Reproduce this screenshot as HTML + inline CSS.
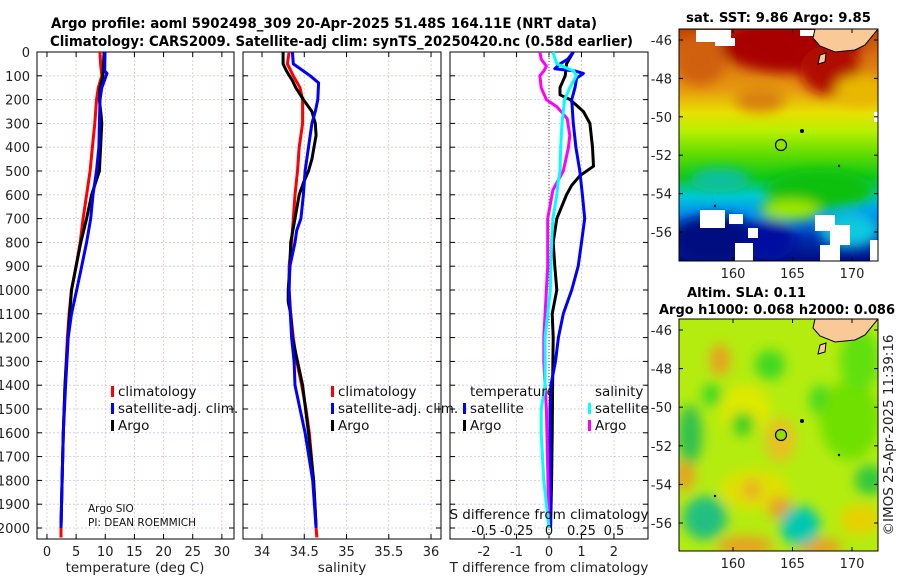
<!DOCTYPE html>
<html><head><meta charset="utf-8">
<style>
html,body{margin:0;padding:0;background:#fff;}
svg{display:block;font-family:"DejaVu Sans","Liberation Sans",sans-serif;}
</style></head>
<body>
<svg id="fig" width="900" height="580" viewBox="0 0 900 580" xmlns="http://www.w3.org/2000/svg">
<defs>
<filter id="blur6" x="-20%" y="-20%" width="140%" height="140%"><feGaussianBlur stdDeviation="6"/></filter>
<filter id="blur3"><feGaussianBlur stdDeviation="3"/></filter>
<clipPath id="clipTop"><rect x="679" y="29" width="199" height="232"/></clipPath>
<clipPath id="clipBot"><rect x="679" y="319" width="199" height="232"/></clipPath>
<linearGradient id="sstGrad" x1="0" y1="0" x2="0" y2="1">
<stop offset="0" stop-color="#c04000"/>
<stop offset="0.12" stop-color="#d87010"/>
<stop offset="0.26" stop-color="#e89a10"/>
<stop offset="0.36" stop-color="#e8e000"/>
<stop offset="0.44" stop-color="#b8f000"/>
<stop offset="0.54" stop-color="#60dc00"/>
<stop offset="0.64" stop-color="#10c818"/>
<stop offset="0.72" stop-color="#00c8d8"/>
<stop offset="0.80" stop-color="#0090f0"/>
<stop offset="0.90" stop-color="#0030b0"/>
<stop offset="1" stop-color="#000c80"/>
</linearGradient>
</defs>
<g font-weight="bold" font-size="14">
<text x="51" y="28" textLength="546" lengthAdjust="spacingAndGlyphs">Argo profile: aoml 5902498_309 20-Apr-2025 51.48S 164.11E (NRT data)</text>
<text x="50" y="46" textLength="583" lengthAdjust="spacingAndGlyphs">Climatology: CARS2009. Satellite-adj clim: synTS_20250420.nc (0.58d earlier)</text>
</g>
<g id="panels"></g>

<!-- Top map: SST -->
<g>
<text x="686" y="22" textLength="185" lengthAdjust="spacingAndGlyphs" font-weight="bold" font-size="13.5">sat. SST: 9.86 Argo: 9.85</text>
<g clip-path="url(#clipTop)">
<rect x="679" y="29" width="199" height="232" fill="url(#sstGrad)"/>
<g filter="url(#blur6)">
<ellipse cx="790" cy="45" rx="70" ry="28" fill="#a80000"/>
<ellipse cx="830" cy="70" rx="30" ry="25" fill="#b01000"/>
<ellipse cx="700" cy="60" rx="25" ry="25" fill="#d06010"/>
<ellipse cx="760" cy="100" rx="25" ry="12" fill="#d88010"/>
<ellipse cx="860" cy="90" rx="25" ry="15" fill="#e8b800"/>
<ellipse cx="820" cy="190" rx="55" ry="20" fill="#08c010"/>
<ellipse cx="790" cy="210" rx="30" ry="10" fill="#a0e800"/>
<ellipse cx="715" cy="240" rx="45" ry="25" fill="#000a80"/>
<ellipse cx="770" cy="240" rx="25" ry="20" fill="#0010a0"/>
<ellipse cx="850" cy="230" rx="30" ry="18" fill="#10c8e0"/>
<ellipse cx="720" cy="180" rx="30" ry="12" fill="#10c0a0"/>
</g>
<rect x="696" y="30" width="35" height="12" fill="#fff"/>
<rect x="715" y="38" width="20" height="8" fill="#fff"/>
<rect x="800" y="30" width="30" height="6" fill="#fff"/>
<rect x="862" y="30" width="8" height="8" fill="#fff"/>
<rect x="700" y="210" width="25" height="18" fill="#fff"/>
<rect x="729" y="214" width="14" height="10" fill="#fff"/>
<rect x="735" y="243" width="18" height="18" fill="#fff"/>
<rect x="748" y="228" width="10" height="10" fill="#fff"/>
<rect x="815" y="215" width="20" height="16" fill="#fff"/>
<rect x="830" y="225" width="20" height="20" fill="#fff"/>
<rect x="820" y="245" width="20" height="16" fill="#fff"/>
<rect x="870" y="240" width="8" height="21" fill="#fff"/>
<rect x="874" y="112" width="4" height="10" fill="#fff"/>
<path d="M815,29 L878,29 L865,45 L855,50 L835,52 L820,46 L813,38 Z" fill="#f9c998" stroke="#000" stroke-width="1"/>
<path d="M820,55 L826,53 L825,62 L818,64 Z" fill="#f9c998" stroke="#000" stroke-width="1"/>
<circle cx="802" cy="131" r="2" fill="#000"/>
<circle cx="839" cy="166" r="1.2" fill="#000"/>
<circle cx="715" cy="206" r="1.2" fill="#000"/>
<circle cx="781" cy="145" r="5.5" fill="#90e000" stroke="#000" stroke-width="1.2"/>
</g>
<rect x="679" y="29" width="199" height="232" fill="none" stroke="#000" stroke-width="1"/>
</g>

<!-- Bottom map: SLA -->
<g>
<text x="687" y="297" textLength="119" lengthAdjust="spacingAndGlyphs" font-weight="bold" font-size="13.5">Altim. SLA: 0.11</text>
<text x="659" y="314" textLength="236" lengthAdjust="spacingAndGlyphs" font-weight="bold" font-size="13.5">Argo h1000: 0.068 h2000: 0.086</text>
<g clip-path="url(#clipBot)">
<rect x="679" y="319" width="199" height="232" fill="#b4ec10"/>
<g filter="url(#blur6)">
<ellipse cx="720" cy="360" rx="10" ry="16" fill="#e8a020"/>
<ellipse cx="745" cy="410" rx="25" ry="25" fill="#e0e800"/>
<ellipse cx="755" cy="490" rx="35" ry="20" fill="#e0e000"/>
<ellipse cx="752" cy="490" rx="10" ry="10" fill="#e8b020"/>
<ellipse cx="685" cy="475" rx="10" ry="16" fill="#e8a020"/>
<ellipse cx="780" cy="508" rx="12" ry="12" fill="#e8a020"/>
<ellipse cx="745" cy="546" rx="28" ry="10" fill="#e8a020"/>
<ellipse cx="820" cy="548" rx="22" ry="10" fill="#e8a020"/>
<ellipse cx="860" cy="520" rx="20" ry="15" fill="#e8d000"/>
<ellipse cx="690" cy="435" rx="12" ry="30" fill="#30c050"/>
<ellipse cx="705" cy="518" rx="22" ry="22" fill="#20c080"/>
<ellipse cx="800" cy="526" rx="20" ry="20" fill="#00c8b0"/>
<ellipse cx="743" cy="424" rx="12" ry="12" fill="#30d020"/>
<ellipse cx="770" cy="365" rx="15" ry="15" fill="#40d820"/>
<ellipse cx="712" cy="395" rx="10" ry="12" fill="#40d820"/>
<ellipse cx="820" cy="400" rx="10" ry="15" fill="#40d820"/>
<ellipse cx="850" cy="420" rx="30" ry="40" fill="#70e000"/>
<ellipse cx="860" cy="360" rx="20" ry="30" fill="#60e010"/>
<ellipse cx="870" cy="480" rx="15" ry="15" fill="#30c840"/>
<ellipse cx="780" cy="440" rx="15" ry="22" fill="#e8c020"/>
</g>
<path d="M815,319 L878,319 L865,335 L855,340 L835,342 L820,336 L813,328 Z" fill="#f9c998" stroke="#000" stroke-width="1"/>
<path d="M820,345 L826,343 L825,352 L818,354 Z" fill="#f9c998" stroke="#000" stroke-width="1"/>
<circle cx="802" cy="421" r="2" fill="#000"/>
<circle cx="839" cy="455" r="1.2" fill="#000"/>
<circle cx="715" cy="496" r="1.2" fill="#000"/>
<circle cx="781" cy="435" r="5.5" fill="#90e000" stroke="#000" stroke-width="1.2"/>
</g>
<rect x="679" y="319" width="199" height="232" fill="none" stroke="#000" stroke-width="1"/>
</g>
<text transform="translate(893,435) rotate(-90)" text-anchor="middle" font-size="13.5" fill="#222">©IMOS 25-Apr-2025 11:39:16</text>
<g id="mapaxes"></g>
</svg>
<script>
// ---- data ----
const depthTicks = [0,100,200,300,400,500,600,700,800,900,1000,1100,1200,1300,1400,1500,1600,1700,1800,1900,2000];
const tempTicks = [0,5,10,15,20,25,30];
const salTicks = [34,34.5,35,35.5,36];
const salTickLabels = ["34","34.5","35","35.5","36"];
const diffTTicks = [-2,-1,0,1,2];
const diffSTicks = [-0.5,-0.25,0,0.25,0.5];
const diffSTickLabels = ["-0.5","-0.25","0","0.25","0.5"];

const tClimDepth = [0,50,100,150,200,300,400,500,600,700,800,900,1000,1100,1200,1400,1600,1800,2000,2040];
const tClim      = [9.1,9.2,9.4,8.8,8.5,8.2,7.8,7.4,6.8,6.2,5.7,5.0,4.2,3.8,3.5,3.1,2.8,2.6,2.4,2.4];
const tSatDepth = [0,80,90,150,200,300,400,500,600,700,800,900,1000,1100,1200,1400,1600,1800,2000];
const tSat      = [9.95,9.9,10.3,9.4,9.1,9.0,8.9,8.5,7.9,7.5,6.8,5.95,5.1,4.2,3.65,3.2,2.8,2.6,2.4];
const tArgoDepth = [0,100,150,200,270,300,400,500,600,700,800,900,1000,1100,1200,1400,1600,1800,1990];
const tArgo      = [9.8,9.6,9.1,9.0,9.3,9.4,9.2,9.0,7.65,6.8,5.8,5.0,4.2,3.9,3.6,3.1,2.8,2.6,2.4];

const sClimDepth = [0,50,100,150,200,300,400,500,600,700,800,900,1000,1100,1200,1300,1400,1500,1600,1800,2000,2040];
const sClim      = [34.32,34.30,34.37,34.45,34.48,34.48,34.44,34.42,34.39,34.37,34.35,34.32,34.32,34.34,34.37,34.41,34.47,34.52,34.56,34.61,34.64,34.65];
const sSatDepth = [0,50,80,100,130,200,250,300,400,500,600,700,750,800,900,1000,1200,1300,1400,1500,1600,1800,2000];
const sSat      = [34.36,34.37,34.49,34.57,34.67,34.66,34.63,34.59,34.55,34.51,34.49,34.46,34.41,34.39,34.33,34.32,34.35,34.38,34.39,34.45,34.51,34.60,34.64];
const sArgoDepth = [0,50,80,120,150,200,250,300,350,450,500,550,600,700,800,900,1000,1050,1100,1200,1400,1600,1800,1990];
const sArgo      = [34.25,34.25,34.29,34.36,34.40,34.49,34.59,34.63,34.64,34.59,34.55,34.49,34.44,34.39,34.34,34.33,34.31,34.31,34.34,34.36,34.48,34.55,34.61,34.64];

const dTSatDepth = [0,30,50,70,80,90,110,150,200,300,400,500,600,700,800,900,1000,1100,1200,1300,1400,1500,2000];
const dTSat      = [0.75,0.58,0.34,0.18,0.8,1.06,0.85,0.8,0.7,0.75,0.83,0.95,1.03,1.1,1.0,0.9,0.7,0.44,0.29,0.2,0.06,0.03,0.05];
const dTArgoDepth = [0,50,100,150,180,200,250,300,400,480,520,560,600,700,800,900,1000,1100,1200,1400,1600,1800,1990];
const dTArgo      = [0.75,0.54,0.5,0.34,0.34,0.65,1.06,1.26,1.34,1.37,0.95,0.7,0.54,0.24,0.13,0.18,0.24,0.1,0.13,0.11,0.1,0.08,0.05];
const dSSatDepth = [0,50,80,100,150,200,300,400,500,550,600,700,800,1000,1100,1200,1400,1500,1600,1800,1950,2000];
const dSSat      = [0.03,0.06,0.19,0.21,0.16,0.12,0.10,0.09,0.085,0.07,0.06,0.03,0.02,0.01,-0.01,-0.03,-0.03,-0.06,-0.06,-0.04,-0.01,0];
const dSArgoDepth = [0,30,60,80,100,150,200,230,280,350,400,500,580,700,800,900,1000,1100,1200,1300,1400,1500,2000];
const dSArgo      = [-0.07,-0.06,-0.02,-0.04,-0.07,-0.06,-0.02,0.06,0.14,0.16,0.15,0.11,0.03,-0.01,-0.01,-0.01,-0.02,-0.03,-0.04,-0.04,-0.03,-0.02,0];

const mapLatTicks = [-46,-48,-50,-52,-54,-56];
const mapLonTicks = [160,165,170];

// ---- layout ----
const NS = "http://www.w3.org/2000/svg";
const root = document.getElementById('panels');
const Y0 = 52, PXM = 0.238, YBOT = 539;
function yScale(d){ return Y0 + d*PXM; }
function el(tag, attrs, parent){ const e=document.createElementNS(NS,tag); for(const k in attrs) e.setAttribute(k,attrs[k]); (parent||root).appendChild(e); return e; }

function makePanel(name, x0, x1, vmin, vmax){
  const g = el('g',{});
  
  
  const xs = v => x0 + (v - vmin)/(vmax - vmin)*(x1 - x0);
  return {g, xs, x0, x1};
}
function drawFrame(p, xticks, labels, name){
  const grid = el('g',{},p.g);
  
  
  depthTicks.forEach(d=>{ el('line',{x1:p.x0,x2:p.x1,y1:yScale(d),y2:yScale(d),stroke:'#c4c8e8','stroke-width':0.8,'stroke-dasharray':'2,2'},grid);
    el('line',{x1:p.x0,x2:p.x0+5,y1:yScale(d),y2:yScale(d),stroke:'#000'},grid);
    el('line',{x1:p.x1-5,x2:p.x1,y1:yScale(d),y2:yScale(d),stroke:'#000'},grid);});
  xticks.forEach((v,i)=>{ const x=p.xs(v);
    el('line',{x1:x,x2:x,y1:Y0,y2:YBOT,stroke:'#e0c8c0','stroke-width':0.8,'stroke-dasharray':'2,2'},grid);
    el('line',{x1:x,x2:x,y1:Y0,y2:Y0+5,stroke:'#000'},grid);
    el('line',{x1:x,x2:x,y1:YBOT-5,y2:YBOT,stroke:'#000'},grid);
    const t=el('text',{x:x,y:556,'text-anchor':'middle','font-size':13,fill:'#222'},p.g);
    t.textContent = labels ? labels[i] : String(v);
    
    
  });
  const fr=el('rect',{x:p.x0,y:Y0,width:p.x1-p.x0,height:YBOT-Y0,fill:'none',stroke:'#000','stroke-width':1},p.g);
  
  
}
function drawLine(p, depths, vals, color, name, scale){
  const pts = depths.map((d,i)=> p.xs(vals[i]*(scale||1)).toFixed(1)+','+yScale(d).toFixed(1)).join(' ');
  const l = el('polyline',{points:pts,fill:'none',stroke:color,'stroke-width':3,'stroke-linejoin':'round'},p.g);
  
  
}
function legendEntry(p, x, y, color, label, name){
  const g = el('g',{},p.g);
  
  
  if(color) el('rect',{x:x-7,y:y-10,width:3,height:11,fill:color},g);
  const t = el('text',{x:x,y:y,'font-size':13.5,fill:'#111'},g);
  t.textContent = label;
}

// y-axis labels
const yl = el('g',{});


depthTicks.forEach(d=>{ const t=el('text',{x:30,y:yScale(d)+5,'text-anchor':'end','font-size':13,fill:'#222'},yl); t.textContent=d; });

// Panel 1 temperature
const p1 = makePanel('temperature-panel', 37, 234, -1.71, 32.08);
drawFrame(p1, tempTicks, null, 'temperature');
drawLine(p1, tClimDepth, tClim, '#f00', 'temperature-climatology-line');
drawLine(p1, tArgoDepth, tArgo, '#000', 'temperature-argo-line');
drawLine(p1, tSatDepth, tSat, '#00f', 'temperature-satellite-line');
legendEntry(p1, 118, 396, '#f00', 'climatology', 'legend-climatology');
legendEntry(p1, 118, 413, '#00f', 'satellite-adj. clim.', 'legend-satellite');
legendEntry(p1, 118, 430, '#000', 'Argo', 'legend-argo');
let t = el('text',{x:88,y:512,'font-size':10.5,fill:'#111'},p1.g); t.textContent='Argo SIO';
 
t = el('text',{x:88,y:526,'font-size':10.5,fill:'#111'},p1.g); t.textContent='PI: DEAN ROEMMICH';
 
t = el('text',{x:135,y:572,'text-anchor':'middle','font-size':13.5,fill:'#222'},p1.g); t.textContent='temperature (deg C)';
 

// Panel 2 salinity
const p2 = makePanel('salinity-panel', 243, 441, 33.775, 36.118);
drawFrame(p2, salTicks, salTickLabels, 'salinity');
drawLine(p2, sClimDepth, sClim, '#f00', 'salinity-climatology-line');
drawLine(p2, sArgoDepth, sArgo, '#000', 'salinity-argo-line');
drawLine(p2, sSatDepth, sSat, '#00f', 'salinity-satellite-line');
legendEntry(p2, 338, 396, '#f00', 'climatology', 'legend-climatology');
legendEntry(p2, 338, 413, '#00f', 'satellite-adj. clim.', 'legend-satellite');
legendEntry(p2, 338, 430, '#000', 'Argo', 'legend-argo');
t = el('text',{x:342,y:572,'text-anchor':'middle','font-size':13.5,fill:'#222'},p2.g); t.textContent='salinity';
 

// Panel 3 differences
const p3 = makePanel('difference-panel', 450, 648, -3.05, 3.05);
drawFrame(p3, diffTTicks, null, 'difference');
el('line',{x1:p3.xs(0),x2:p3.xs(0),y1:Y0,y2:YBOT,stroke:'#444','stroke-width':1,'stroke-dasharray':'1,2'},p3.g);
const SF = 4; // S difference axis scale: 0.5 psu aligns with 2 deg C
drawLine(p3, dTArgoDepth, dTArgo, '#000', 'tdiff-argo-line');
drawLine(p3, dTSatDepth, dTSat, '#00f', 'tdiff-satellite-line');
drawLine(p3, dSArgoDepth, dSArgo, '#f0f', 'sdiff-argo-line', SF);
drawLine(p3, dSSatDepth, dSSat, '#0ff', 'sdiff-satellite-line', SF);
legendEntry(p3, 470, 396, null, 'temperature', 'legend-temperature-header');
legendEntry(p3, 470, 413, '#00f', 'satellite', 'legend-temperature-satellite');
legendEntry(p3, 470, 430, '#000', 'Argo', 'legend-temperature-argo');
legendEntry(p3, 595, 396, null, 'salinity', 'legend-salinity-header');
legendEntry(p3, 595, 413, '#0ff', 'satellite', 'legend-salinity-satellite');
legendEntry(p3, 595, 430, '#f0f', 'Argo', 'legend-salinity-argo');
t = el('text',{x:549,y:519,'text-anchor':'middle','font-size':13.5,fill:'#111'},p3.g); t.textContent='S difference from climatology';
 
diffSTicks.forEach((v,i)=>{ const tt=el('text',{x:p3.xs(v*SF),y:535,'text-anchor':'middle','font-size':13,fill:'#111'},p3.g); tt.textContent=diffSTickLabels[i];
    });
t = el('text',{x:549,y:572,'text-anchor':'middle','font-size':13.5,fill:'#222'},p3.g); t.textContent='T difference from climatology';
 

// Map axes
const ma = document.getElementById('mapaxes');
function mapAxes(top, bottom, latTop, pxLat, name){
  const g = el('g',{},ma);
  
  
  mapLatTicks.forEach(la=>{ const y = latTop + (-46-la)*pxLat;
    const tx=el('text',{x:672,y:y+5,'text-anchor':'end','font-size':13,fill:'#222'},g); tx.textContent=la;
    el('line',{x1:679,x2:683,y1:y,y2:y,stroke:'#000'},g); el('line',{x1:874,x2:878,y1:y,y2:y,stroke:'#000'},g); });
  mapLonTicks.forEach(lo=>{ const x = 733 + (lo-160)*11.9;
    const tx=el('text',{x:x,y:bottom+17,'text-anchor':'middle','font-size':13,fill:'#222'},g); tx.textContent=lo;
    el('line',{x1:x,x2:x,y1:bottom-4,y2:bottom,stroke:'#000'},g); el('line',{x1:x,x2:x,y1:top,y2:top+4,stroke:'#000'},g); });
}
mapAxes(29, 261, 40, 19.2, 'sst-map-axes');
mapAxes(319, 551, 330, 19.3, 'sla-map-axes');
</script>
</body></html>
